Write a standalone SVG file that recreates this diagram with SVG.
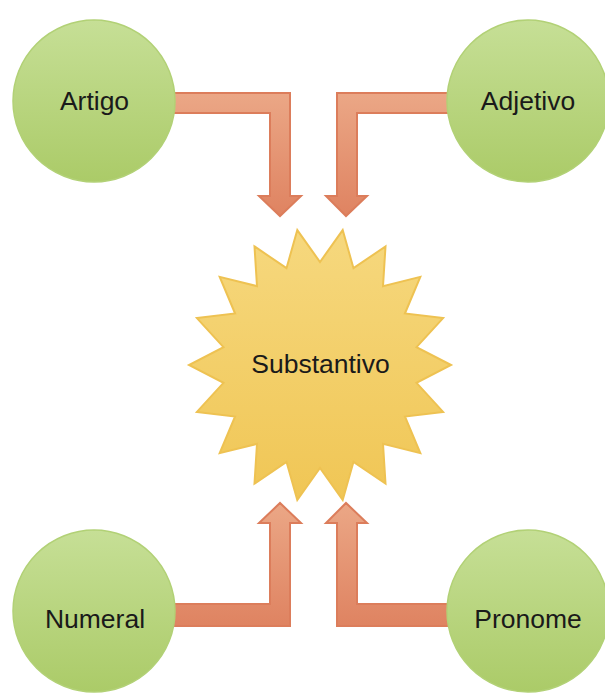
<svg xmlns="http://www.w3.org/2000/svg" width="605" height="696" viewBox="0 0 605 696">
<defs>
<linearGradient id="gGreen" x1="0" y1="0" x2="0" y2="1">
<stop offset="0" stop-color="#c6df96"/>
<stop offset="1" stop-color="#abcb68"/>
</linearGradient>
<linearGradient id="gStar" x1="0" y1="0" x2="0" y2="1">
<stop offset="0" stop-color="#f6d87e"/>
<stop offset="1" stop-color="#f0c655"/>
</linearGradient>
<linearGradient id="gArrow" x1="0" y1="0" x2="0" y2="1">
<stop offset="0" stop-color="#eba786"/>
<stop offset="1" stop-color="#df8361"/>
</linearGradient>
</defs>
<style>
.arrow{fill:url(#gArrow);stroke:#dc7d5b;stroke-width:2;stroke-linejoin:miter}
.circ{fill:url(#gGreen);stroke:#b2d176;stroke-width:1.5}
.star{fill:url(#gStar);stroke:#eec252;stroke-width:2;stroke-linejoin:miter}
.lbl{font-family:"Liberation Sans",Arial,Helvetica,sans-serif;font-size:26.5px;fill:#1a1a1a;text-anchor:middle}
</style>
<rect width="605" height="696" fill="#ffffff"/>
<g id="connectors">
<polygon class="arrow" points="165,93 290,93 290,196 301,196 280,216 259,196 270,196 270,113 165,113"/>
<polygon class="arrow" points="460,93 337,93 337,196 326,196 346,216 367,196 357,196 357,113 460,113"/>
<polygon class="arrow" points="165,626 290,626 290,523 301,523 280,503 259,523 270,523 270,604 165,604"/>
<polygon class="arrow" points="460,626 337,626 337,523 326,523 346,503 367,523 357,523 357,604 460,604"/>
</g>
<g id="substantivo">
<polygon class="star" points="451,365 416.5,347.1 443.1,318.1 404.9,313.5 420.3,276.9 383,286.1 385.5,246.4 353.5,268.2 342.7,230.1 320,262 297.3,230.1 286.5,268.2 254.5,246.4 257,286.1 219.7,276.9 235.1,313.5 196.9,318.1 223.5,347.1 189,365 223.5,382.9 196.9,411.9 235.1,416.5 219.7,453.1 257,443.9 254.5,483.6 286.5,461.8 297.3,499.9 320,468 342.7,499.9 353.5,461.8 385.5,483.6 383,443.9 420.3,453.1 404.9,416.5 443.1,411.9 416.5,382.9"/>
<text class="lbl" x="320.5" y="373">Substantivo</text>
</g>
<g id="artigo">
<circle class="circ" cx="94" cy="101" r="81"/>
<text class="lbl" x="94.5" y="110">Artigo</text>
</g>
<g id="adjetivo">
<circle class="circ" cx="528" cy="101" r="81"/>
<text class="lbl" x="528" y="110">Adjetivo</text>
</g>
<g id="numeral">
<circle class="circ" cx="94" cy="611" r="81"/>
<text class="lbl" x="95" y="628">Numeral</text>
</g>
<g id="pronome">
<circle class="circ" cx="528" cy="611" r="81"/>
<text class="lbl" x="528" y="628">Pronome</text>
</g>
</svg>
